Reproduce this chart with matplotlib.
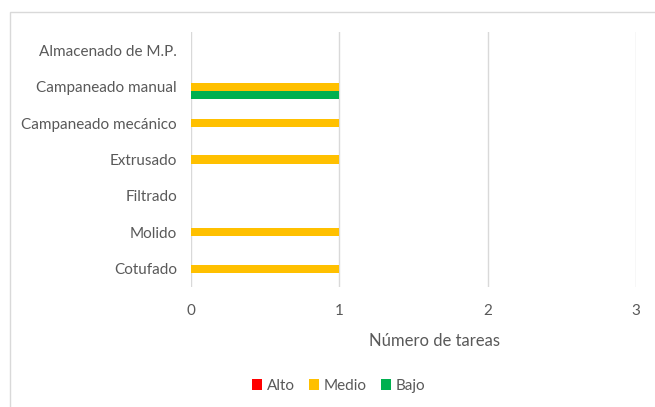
import matplotlib
matplotlib.use('Agg')
import matplotlib.pyplot as plt
from matplotlib.patches import Rectangle
import numpy as np

# task categories, listed top to bottom
categories = ["Almacenado de M.P.", "Campaneado manual", "Campaneado mecánico",
              "Extrusado", "Filtrado", "Molido", "Cotufado"]
alto = [0, 0, 0, 0, 0, 0, 0]
medio = [0, 1, 1, 1, 0, 1, 1]
bajo = [0, 1, 0, 0, 0, 0, 0]

series = [("Alto", alto, "#FF0000"),
          ("Medio", medio, "#FFC000"),
          ("Bajo", bajo, "#00B050")]

plt.rcParams['font.family'] = ['Lato', 'DejaVu Sans']
text_color = "#595959"

fig = plt.figure(figsize=(6.55, 4.07), dpi=100)
ax = fig.add_axes([0.2916, 0.2948, 0.6794, 0.6266])

# first category at the top
y = np.arange(len(categories))[::-1].astype(float)
h = 0.22
for i, (name, vals, color) in enumerate(series):
    offset = (1 - i) * h
    ax.barh(y + offset, vals, height=h, color=color, label=name, zorder=3)

ax.set_ylim(-0.5, len(categories) - 0.5)
ax.set_xlim(0, 3)
ax.set_xticks([0, 1, 2, 3])
ax.set_yticks(y)
ax.set_yticklabels(categories)
ax.grid(axis='x', color="#D9D9D9", linewidth=1, zorder=0)
for s in ax.spines.values():
    s.set_visible(False)
ax.tick_params(axis='both', length=0, colors=text_color, labelsize=11)
ax.tick_params(axis='x', pad=12)
ax.tick_params(axis='y', pad=10)

fig.text(0.663, 1 - 341 / 407, "Número de tareas", ha='center', va='center',
         color=text_color, fontsize=12)

handles, labels = ax.get_legend_handles_labels()
fig.legend(handles, labels, loc='center', bbox_to_anchor=(0.517, 1 - 386 / 407),
           ncol=3, frameon=False, fontsize=11, labelcolor=text_color,
           handlelength=0.7, handleheight=0.7, handletextpad=0.3, columnspacing=0.9)

# chart frame
fig.patches.append(Rectangle((10 / 655, -0.1), 1.2, 1 - 12 / 407 + 0.1,
                             transform=fig.transFigure, fill=False,
                             edgecolor="#D9D9D9", linewidth=1))

fig.savefig("out.png", dpi=100)
